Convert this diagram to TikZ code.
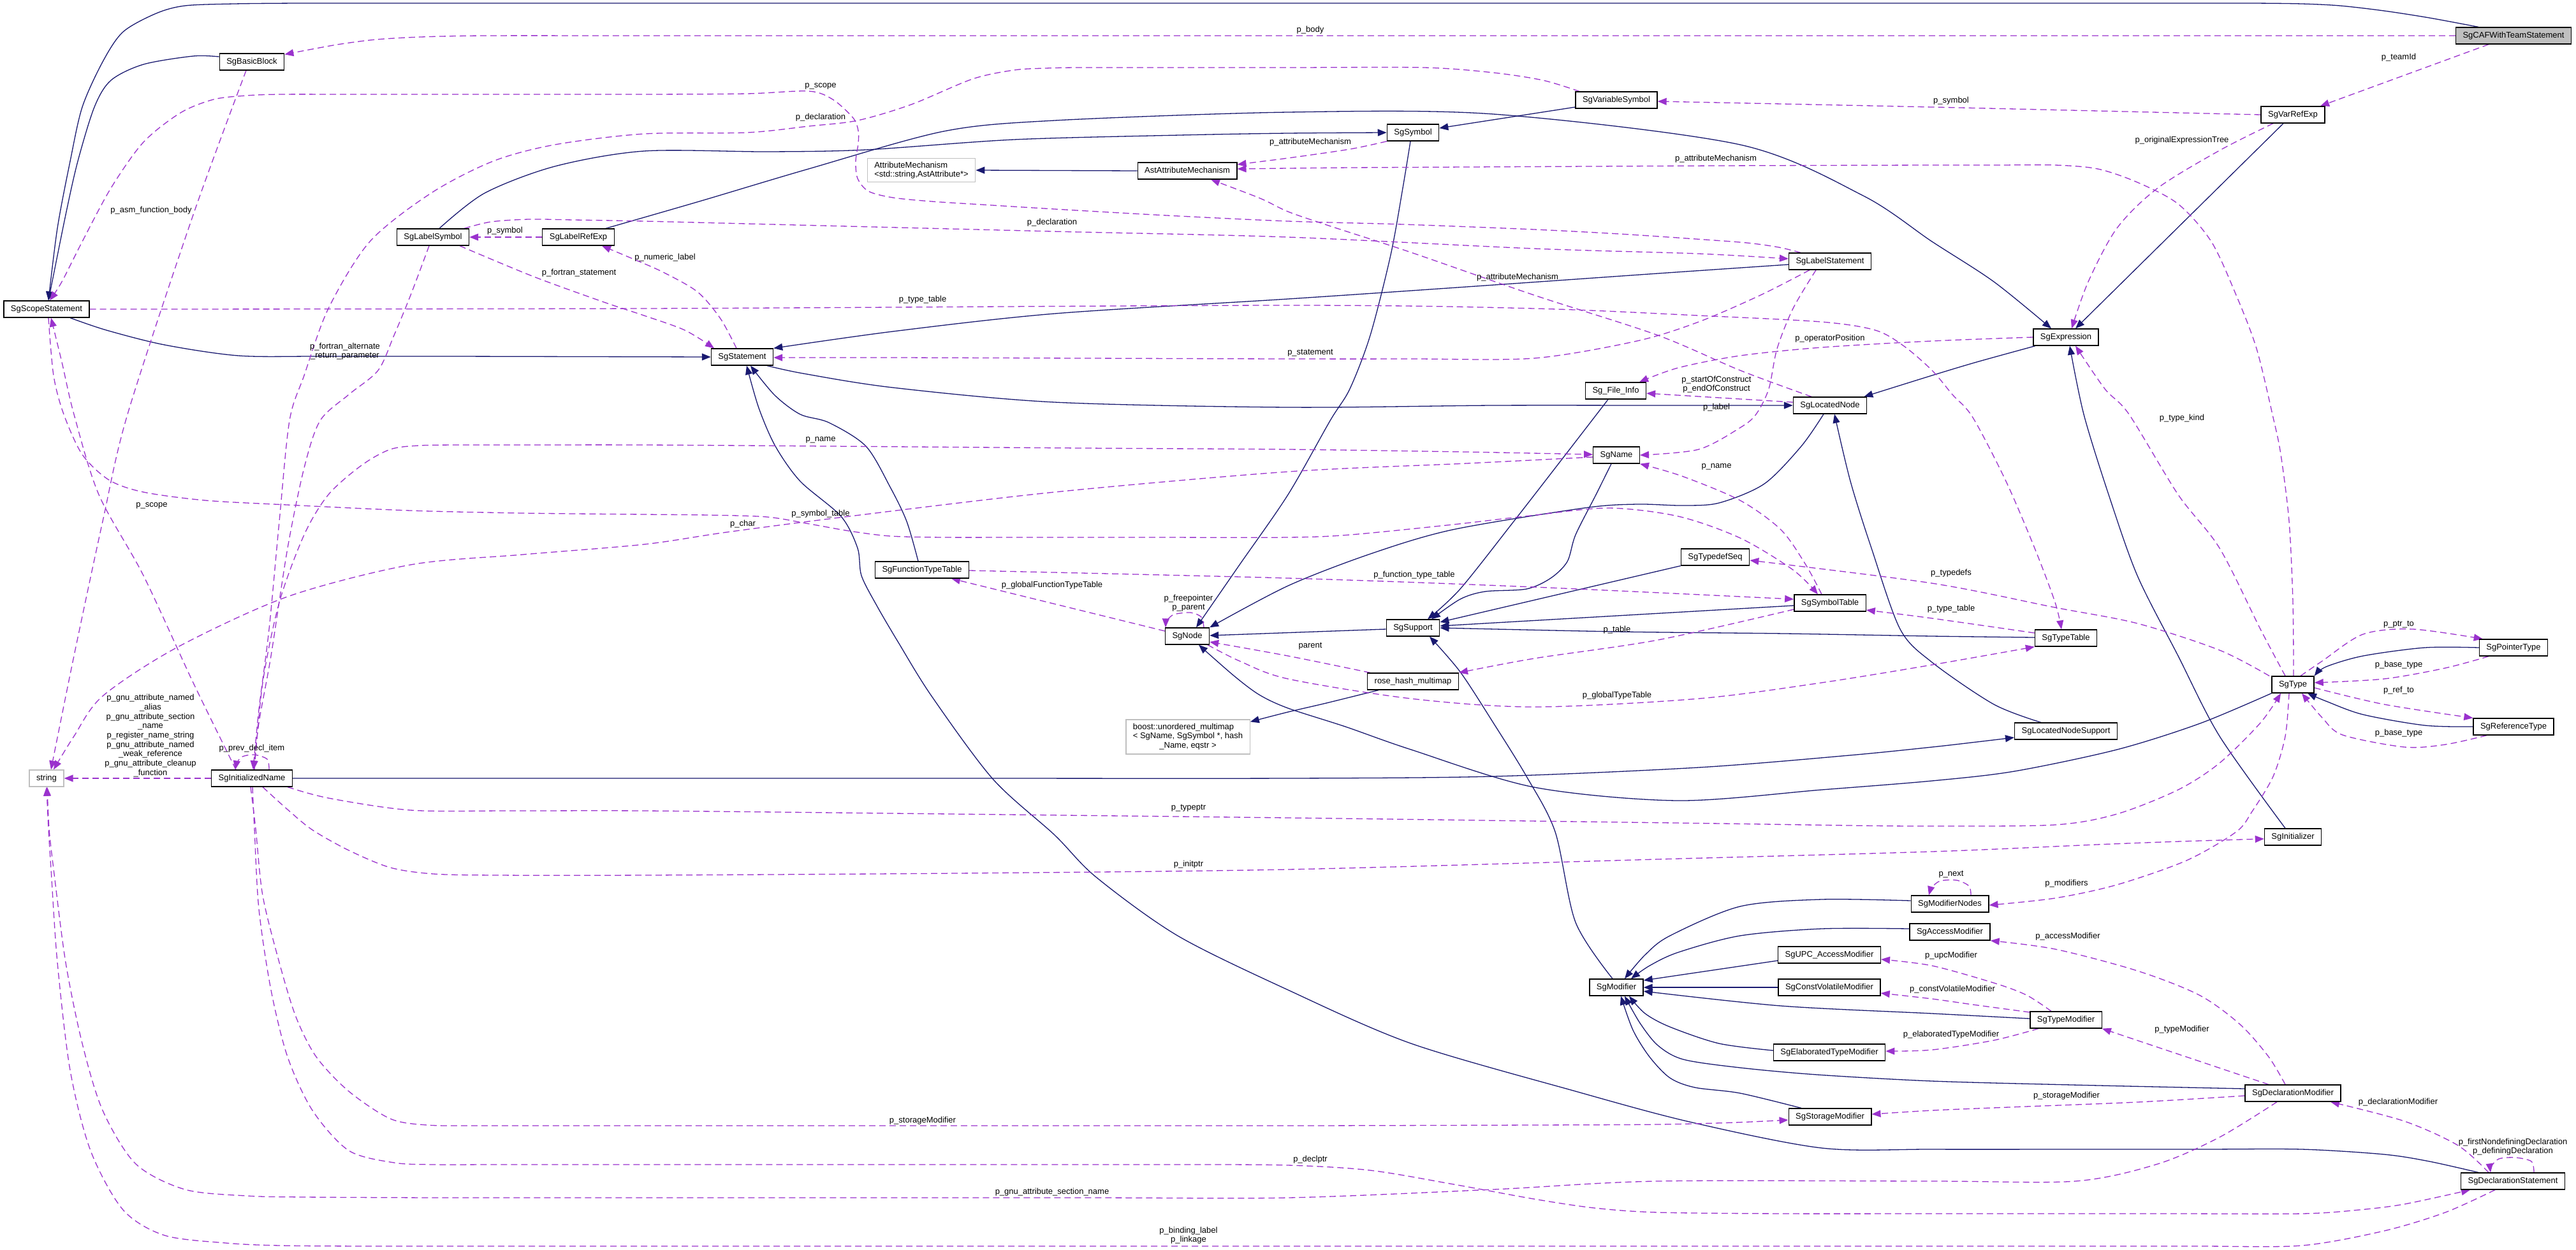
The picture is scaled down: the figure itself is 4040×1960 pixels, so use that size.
\documentclass[tikz,border=0pt]{standalone}
\usepackage{fontspec}
\setmainfont{Liberation Sans}
\usetikzlibrary{arrows.meta}
\definecolor{navyc}{HTML}{191970}
\definecolor{orchidc}{HTML}{9A32CD}
\definecolor{boxgray}{HTML}{BFBFBF}
\newcommand{\gfont}{\fontsize{13}{14.7}\selectfont}
\pgfdeclarelayer{back}
\pgfdeclarelayer{edges}
\pgfsetlayers{back,edges,main}
\tikzset{
  basebox/.style={line width=1.3pt, fill=white, font=\gfont, inner xsep=11pt},
  cls/.style={basebox, draw=black, inner ysep=0pt, minimum height=26pt, text height=9.6pt, text depth=2.8pt},
  extcls/.style={cls, draw=boxgray},
  extbox/.style={basebox, draw=boxgray, inner ysep=5pt},
  inhedge/.style={draw=navyc, line width=1.3pt, -{Triangle[length=14pt,width=11pt]}},
  useedge/.style={draw=orchidc, line width=1.3pt, dash pattern=on 10pt off 6pt, -{Triangle[length=14pt,width=11pt]}},
  lbl/.style={font=\gfont, inner sep=0pt, align=center},
}
\begin{document}
\begin{tikzpicture}[x=1pt,y=-1pt]
\useasboundingbox (0,0) rectangle (4040,1960);
\begin{pgfonlayer}{back}
\fill[white] (0,0) rectangle (4040,1960);
\end{pgfonlayer}

% ---------------- nodes ----------------
\node[cls, fill=boxgray] (caf) at (3942,56) {SgCAFWithTeamStatement};
\node[cls] (bb) at (395,97) {SgBasicBlock};
\node[cls] (scope) at (73,485) {SgScopeStatement};
\node[cls] (lsym) at (679,372) {SgLabelSymbol};
\node[cls] (lref) at (907,372) {SgLabelRefExp};
\node[extbox, align=left] (attm) at (1445,267) {AttributeMechanism\\<std::string,AstAttribute*>};
\node[cls] (astm) at (1862,268) {AstAttributeMechanism};
\node[cls] (stmt) at (1164,560) {SgStatement};
\node[cls] (vsym) at (2535,157) {SgVariableSymbol};
\node[cls] (sym) at (2216,208) {SgSymbol};
\node[cls] (lstmt) at (2870,410) {SgLabelStatement};
\node[cls] (finfo) at (2534,613) {Sg\_File\_Info};
\node[cls] (lnode) at (2870,636) {SgLocatedNode};
\node[cls] (vref) at (3596,180) {SgVarRefExp};
\node[cls] (expr) at (3240,529) {SgExpression};
\node[extcls] (str) at (73,1221) {string};
\node[cls] (iname) at (395,1221) {SgInitializedName};
\node[cls] (ftt) at (1446,894) {SgFunctionTypeTable};
\node[cls] (node) at (1862,998) {SgNode};
\node[extbox] (boost) at (1863,1156) {\begin{tabular}{@{}l@{}}boost::unordered\_multimap\\< SgName, SgSymbol *, hash\\\multicolumn{1}{@{}c@{}}{\_Name, eqstr >}\end{tabular}};
\node[cls] (name) at (2535,714) {SgName};
\node[cls] (tdseq) at (2690,874) {SgTypedefSeq};
\node[cls] (symtab) at (2870,946) {SgSymbolTable};
\node[cls] (sup) at (2216,985) {SgSupport};
\node[cls] (rhm) at (2216,1069) {rose\_hash\_multimap};
\node[cls] (ttab) at (3240,1001) {SgTypeTable};
\node[cls] (lns) at (3240,1147) {SgLocatedNodeSupport};
\node[cls] (type) at (3596,1074) {SgType};
\node[cls] (ptr) at (3942,1016) {SgPointerType};
\node[cls] (ref) at (3942,1140) {SgReferenceType};
\node[cls] (init) at (3596,1313) {SgInitializer};
\node[cls] (mod) at (2535,1549) {SgModifier};
\node[cls] (modn) at (3058,1418) {SgModifierNodes};
\node[cls] (acc) at (3058,1462) {SgAccessModifier};
\node[cls] (upc) at (2869,1498) {SgUPC\_AccessModifier};
\node[cls] (cv) at (2869,1549) {SgConstVolatileModifier};
\node[cls] (elab) at (2869,1651) {SgElaboratedTypeModifier};
\node[cls] (stor) at (2870,1752) {SgStorageModifier};
\node[cls] (tmod) at (3240,1600) {SgTypeModifier};
\node[cls] (dmod) at (3596,1715) {SgDeclarationModifier};
\node[cls] (dstmt) at (3941,1853) {SgDeclarationStatement};

\begin{pgfonlayer}{edges}
% ---------------- inheritance ----------------
\draw[inhedge] plot[smooth,tension=.5] coordinates {([xshift=-55pt]caf.north) (3810,28) (3739,17) (3670,9) (3610,6) (3530,5) (3400,5) (3150,5) (2700,5) (2000,5) (1300,5) (800,5) (600,5) (470,5) (367,6) (290,9) (245,21) (193,50) (161,97) (129,168) (110,253) (90,358) ([xshift=3pt]scope.north)};
\draw[inhedge] plot[smooth,tension=.5] coordinates {([yshift=8pt]bb.west) (303,88) (225,101) (174,126) (148,168) (122,253) (103,337) ([xshift=3pt]scope.north)};
\draw[inhedge] plot[smooth,tension=.5] coordinates {([xshift=37pt]scope.south) (167,518) (258,541) (374,558) (500,559) (700,559) (stmt.west)};
\draw[inhedge] plot[smooth,tension=.5] coordinates {([xshift=10pt]lsym.north) (760,303) (870,261) (1010,237) (1203,238) (1358,235) (1590,219) (1850,212) (2020,209) (sym.west)};
\draw[inhedge] ([yshift=-11pt]vsym.west) -- ([yshift=7pt]sym.east);
\draw[inhedge] plot[smooth,tension=.5] coordinates {([xshift=-4pt]sym.south) (2200,295) (2181,400) (2149,526) (2117,610) (2086,660) (2020,776) (1944,886) ([xshift=14pt]node.north)};
\draw[inhedge] plot[smooth,tension=.5] coordinates {([xshift=43pt]lref.north) (1100,315) (1268,265) (1480,206) (1654,189) (2020,176) (2342,179) (2729,227) (2922,307) (3030,379) (3127,442) ([xshift=-23pt]expr.north)};
\draw[inhedge] ([xshift=-15pt]vref.south) -- ([xshift=15pt]expr.north);
\draw[inhedge] plot[smooth,tension=.5] coordinates {([xshift=-12pt]init.north) (3481,1155) (3416,1029) (3352,903) (3307,776) (3268,650) ([xshift=6pt]expr.south)};
\draw[inhedge] plot[smooth,tension=.5] coordinates {([xshift=-48pt]expr.south) (3100,568) (3030,589) ([xshift=-5pt]lnode.north east)};
\draw[inhedge] plot[smooth,tension=.5] coordinates {([xshift=39pt]stmt.south) (1260,586) (1400,608) (1654,631) (2020,639) (2342,636) (2600,636) (lnode.west)};
\draw[inhedge] plot[smooth,tension=.5] coordinates {([yshift=-5pt]lstmt.west) (2600,429) (2300,450) (2020,469) (1654,492) (1400,520) (stmt.north east)};
\draw[inhedge] plot[smooth,tension=.5] coordinates {([xshift=-6pt]ftt.north) (1422,818) (1396,764) (1358,700) (1300,663) (1255,650) (1215,620) ([xshift=13pt]stmt.south)};
\draw[inhedge] plot[smooth,tension=.5] coordinates {([xshift=-54pt]dstmt.north) (3810,1822) (3739,1811) (3610,1803) (3450,1803) (3250,1803) (3030,1803) (2857,1801) (2650,1760) (2471,1712) (2213,1637) (2020,1553) (1847,1468) (1719,1376) (1654,1310) (1557,1222) (1461,1092) (1409,1008) (1375,950) (1351,903) (1345,860) (1319,810) (1255,755) (1216,700) (1190,640) ([xshift=7pt]stmt.south)};
\draw[inhedge] plot[smooth,tension=.5] coordinates {([xshift=-10pt]lnode.south) (2825,700) (2767,759) (2696,789) (2638,793) (2567,791) (2484,797) (2278,831) (2149,869) (2020,919) (node.north east)};
\draw[inhedge] plot[smooth,tension=.5] coordinates {([xshift=-39pt]lns.north) (3127,1105) (3030,1039) (2980,987) (2935,860) (2902,755) ([xshift=7pt]lnode.south)};
\draw[inhedge] plot[smooth,tension=.5] coordinates {(iname.east) (700,1221) (1010,1221) (1500,1221) (2020,1221) (2342,1218) (2664,1204) (2900,1185) (3030,1172) (3100,1164) ([yshift=-10pt]lns.west)};
\draw[inhedge] (astm.west) -- (attm.east);
\draw[inhedge] ([yshift=-2pt]sup.west) -- ([yshift=1pt]node.east);
\draw[inhedge] plot[smooth,tension=.5] coordinates {([xshift=-8pt]name.south) (2503,776) (2471,839) (2458,881) (2432,907) (2394,924) (2329,928) (2290,940) ([xshift=29pt]sup.north)};
\draw[inhedge] plot[smooth,tension=.5] coordinates {([xshift=-12pt]finfo.south) (2450,720) (2374,818) (2290,924) ([xshift=23pt]sup.north)};
\draw[inhedge] (tdseq.south west) -- ([yshift=9pt]sup.east);
\draw[inhedge] ([yshift=-4pt]symtab.west) -- ([yshift=3pt]sup.east);
\draw[inhedge] plot[smooth,tension=.5] coordinates {([yshift=1pt]ttab.west) (3030,998) (2800,994) (2536,991) (sup.east)};
\draw[inhedge] plot[smooth,tension=.5] coordinates {([xshift=-6pt]mod.north) (2471,1447) (2439,1305) (2394,1218) (2342,1134) (2290,1054) ([xshift=26pt]sup.south)};
\draw[inhedge] plot[smooth,tension=.5] coordinates {([xshift=-54pt]rhm.south) (2080,1103) (2020,1117) ([yshift=-4pt]boost.north east)};
\draw[inhedge] plot[smooth,tension=.5] coordinates {(type.south west) (3450,1135) (3320,1176) (3159,1210) (3030,1225) (2857,1239) (2632,1256) (2406,1235) (2213,1176) (2110,1140) (2020,1111) (1975,1090) (1935,1060) ([xshift=18pt]node.south)};
\draw[inhedge] plot[smooth,tension=.5] coordinates {(ptr.west) (3803,1016) (3706,1029) (3648,1046) (type.north east)};
\draw[inhedge] plot[smooth,tension=.5] coordinates {(ref.west) (3803,1138) (3706,1121) (3648,1100) ([xshift=23pt]type.south)};
\draw[inhedge] plot[smooth,tension=.5] coordinates {([yshift=5pt]modn.west) (2857,1411) (2729,1422) (2619,1468) (2580,1498) ([xshift=13pt]mod.north)};
\draw[inhedge] plot[smooth,tension=.5] coordinates {([yshift=5pt]acc.west) (2857,1457) (2729,1468) (2632,1494) (2587,1515) ([xshift=23pt]mod.north)};
\draw[inhedge] ([yshift=-9pt]upc.west) -- ([yshift=11pt]mod.east);
\draw[inhedge] (cv.west) -- (mod.east);
\draw[inhedge] plot[smooth,tension=.5] coordinates {([yshift=2pt]tmod.west) (3030,1590) (2793,1578) ([yshift=-6pt]mod.east)};
\draw[inhedge] plot[smooth,tension=.5] coordinates {([yshift=3pt]elab.west) (2696,1637) (2619,1611) (2580,1590) ([xshift=20pt]mod.south)};
\draw[inhedge] plot[smooth,tension=.5] coordinates {([yshift=7pt]dmod.west) (3250,1702) (3030,1696) (2850,1686) (2729,1675) (2640,1662) (2600,1640) (2572,1605) ([xshift=13pt]mod.south)};
\draw[inhedge] plot[smooth,tension=.5] coordinates {([xshift=-45pt]stor.north) (2729,1715) (2658,1706) (2619,1691) (2587,1658) (2561,1616) ([xshift=7pt]mod.south)};

% ---------------- usage ----------------
\draw[useedge] plot[smooth,tension=.5] coordinates {(caf.west) (3000,56) (2000,56) (1300,56) (1000,56) (760,56) (660,58) (590,62) (535,69) (490,77) ([yshift=-2pt]bb.north east)};
\draw[useedge] ([xshift=-39pt]caf.south) -- ([xshift=43pt]vref.north);
\draw[useedge] plot[smooth,tension=.5] coordinates {(vref.west) (3030,168) ([yshift=-2pt]vsym.east)};
\draw[useedge] plot[smooth,tension=.5] coordinates {([xshift=-31pt]vref.south) (3481,236) (3384,295) (3320,358) (3275,442) ([xshift=9pt]expr.north)};
\draw[useedge] plot[smooth,tension=.5] coordinates {([xshift=-58pt]vsym.north) (2420,126) (2342,114) (2233,106) (2020,106) (1800,106) (1690,106) (1640,107) (1590,110) (1525,124) (1429,164) (1345,189) (1268,198) (1171,208) (1010,210) (870,227) (773,253) (676,303) (580,379) (515,484) (477,589) (454,660) (438,818) (422,987) (406,1113) ([xshift=2pt]iname.north)};
\draw[useedge] plot[smooth,tension=.5] coordinates {([xshift=-46pt]lstmt.north) (2790,388) (2740,381) (2660,375) (2540,367) (2406,360) (2200,352) (2020,347) (1830,338) (1654,328) (1540,321) (1461,316) (1400,310) (1362,300) (1345,280) (1342,253) (1346,225) (1346,205) (1338,185) (1306,156) (1268,143) (1171,147) (1010,148) (800,148) (560,148) (440,148) (386,150) (335,156) (283,177) (225,223) (174,295) (129,379) (97,442) ([xshift=5pt]scope.north)};
\draw[useedge] plot[smooth,tension=.5] coordinates {([xshift=49pt]lsym.north) (770,348) (830,344) (900,345) (1010,347) (1250,353) (1650,363) (2020,372) (2406,390) (2664,398) ([yshift=4pt]lstmt.west)};
\draw[useedge] plot[smooth,tension=.5] coordinates {([xshift=-9pt]bb.south) (303,337) (200,650) (161,818) (116,1029) ([xshift=7pt]str.north)};
\draw[useedge] (lref.west) -- (lsym.east);
\draw[useedge] plot[smooth,tension=.5] coordinates {([xshift=42pt]lsym.south) (837,434) (950,475) (1010,495) (1074,518) ([xshift=-44pt]stmt.north)};
\draw[useedge] plot[smooth,tension=.5] coordinates {([xshift=-9pt]stmt.north) (1130,500) (1094,458) (1040,427) (990,405) ([xshift=37pt]lref.south)};
\draw[useedge] plot[smooth,tension=.5] coordinates {([xshift=-6pt]lsym.south) (644,463) (618,526) (593,581) (547,619) (502,660) (477,734) (451,860) (425,1029) (406,1134) ([xshift=3pt]iname.north)};
\draw[useedge] plot[smooth,tension=.5] coordinates {([xshift=-25pt]iname.north) (303,1071) (225,903) (155,776) (116,650) (97,568) ([xshift=7pt]scope.south)};
\draw[useedge] plot[smooth,tension=.5] coordinates {([xshift=3pt]scope.south) (84,589) (100,650) (129,713) (171,753) (225,772) (322,785) (450,792) (644,801) (820,805) (1010,807) (1110,808) (1203,811) (1270,822) (1332,833) (1396,841) (1480,843) (1600,843) (1800,843) (2020,843) (2117,839) (2278,823) (2400,809) (2522,797) (2632,810) (2729,844) (2812,894) ([xshift=-19pt]symtab.north)};
\draw[useedge] plot[smooth,tension=.5] coordinates {([xshift=4pt]iname.north) (412,1071) (438,945) (477,839) (515,776) (567,730) (612,705) (657,699) (720,698) (820,698) (1010,698) (1300,700) (1700,703) (2020,705) (2300,709) ([yshift=1pt]name.west)};
\draw[useedge] plot[smooth,tension=.5] coordinates {([yshift=-3pt]name.west) (2300,727) (2020,740) (1654,772) (1332,810) (1139,835) (1010,854) (820,870) (644,886) (451,936) (277,1016) (161,1092) (116,1155) ([xshift=11pt]str.north)};
\draw[useedge] (iname.west) -- (str.east);
\draw[useedge] plot[smooth,tension=.5] coordinates {([xshift=27pt]iname.north) (419,1191) (399,1184) (380,1187) (372,1196) ([xshift=-26pt]iname.north)};
\draw[useedge] plot[smooth,tension=.5] coordinates {([xshift=1pt]iname.south) (399,1300) (406,1426) (425,1553) (451,1658) (490,1742) (547,1805) (618,1824) (680,1827) (780,1827) (1010,1827) (1500,1827) (1850,1827) (2020,1828) (2149,1836) (2280,1858) (2406,1881) (2500,1895) (2600,1902) (2800,1904) (3030,1904) (3400,1904) (3610,1904) (3700,1898) (3771,1889) ([xshift=-67pt]dstmt.south)};
\draw[useedge] plot[smooth,tension=.5] coordinates {([xshift=17pt]iname.south) (451,1270) (490,1302) (547,1334) (612,1361) (680,1371) (780,1373) (1010,1373) (1500,1370) (2020,1364) (2600,1348) (3030,1336) (3288,1325) (3420,1320) ([yshift=-3pt]init.west)};
\draw[useedge] plot[smooth,tension=.5] coordinates {([xshift=-2pt]iname.south) (401,1300) (412,1405) (438,1510) (464,1595) (496,1658) (547,1712) (612,1755) (670,1765) (750,1766) (850,1766) (1010,1766) (1200,1766) (1500,1766) (2020,1766) (2400,1765) (2600,1764) (2720,1761) ([yshift=-5pt]stor.west)};
\draw[useedge] plot[smooth,tension=.5] coordinates {([xshift=56pt]iname.south) (515,1252) (644,1271) (800,1272) (1010,1272) (1400,1276) (2020,1283) (2400,1288) (2700,1292) (2900,1295) (3030,1296) (3223,1294) (3320,1277) (3416,1239) (3481,1197) (3545,1134) ([xshift=-19pt]type.south)};
\draw[useedge] plot[smooth,tension=.5] coordinates {(expr.west) (3030,535) (2857,545) (2729,558) (2632,577) ([xshift=37pt]finfo.north)};
\draw[useedge] ([yshift=5pt]lnode.west) -- ([yshift=-4pt]finfo.east);
\draw[useedge] plot[smooth,tension=.5] coordinates {([xshift=-29pt]lnode.north) (2729,581) (2600,526) (2406,463) (2213,396) (2084,354) (2020,332) (1976,311) ([xshift=37pt]astm.south)};
\draw[useedge] plot[smooth,tension=.5] coordinates {([xshift=-41pt]sym.south) (2117,234) (2020,248) ([yshift=10pt]astm.east)};
\draw[useedge] plot[smooth,tension=.5] coordinates {([xshift=1pt]type.north) (3596,945) (3590,818) (3577,713) (3565,655) (3539,547) (3507,463) (3468,379) (3416,320) (3352,286) (3290,265) (3223,259) (3130,259) (3030,259) (2700,260) (2300,262) (2120,263) (2020,264) ([yshift=3pt]astm.east)};
\draw[useedge] plot[smooth,tension=.5] coordinates {([xshift=-32pt]lstmt.south) (2761,463) (2664,505) (2567,535) (2406,562) (2213,563) (2020,563) (1700,562) (1400,561) ([yshift=-1pt]stmt.east)};
\draw[useedge] plot[smooth,tension=.5] coordinates {(scope.east) (1010,484) (2020,479) (2406,484) (2664,495) (2857,505) (2941,518) (2986,543) (3030,581) (3062,619) (3094,655) (3146,755) (3191,860) (3223,945) ([xshift=-7pt]ttab.north)};
\draw[useedge] plot[smooth,tension=.5] coordinates {([yshift=-1pt]ftt.east) (2020,907) (2406,921) ([yshift=6pt]symtab.west)};
\draw[useedge] ([yshift=8pt]node.west) -- ([xshift=46pt]ftt.south);
\draw[useedge] plot[smooth,tension=.5] coordinates {([xshift=26pt]node.north) (1884,968) (1867,961) (1841,964) (1830,974) ([xshift=-34pt]node.north)};
\draw[useedge] plot[smooth,tension=.5] coordinates {([xshift=-67pt]rhm.north) (2020,1029) ([yshift=-9pt]node.east)};
\draw[useedge] plot[smooth,tension=.5] coordinates {([xshift=32pt]node.south) (1944,1037) (2020,1065) (2213,1096) (2406,1109) (2664,1096) (2857,1071) (3030,1043) (ttab.south west)};
\draw[useedge] plot[smooth,tension=.5] coordinates {([yshift=-10pt]symtab.west) (2600,1004) (2406,1033) (rhm.north east)};
\draw[useedge] plot[smooth,tension=.5] coordinates {([xshift=-13pt]symtab.north) (2832,886) (2793,831) (2729,785) (2638,747) (name.south east)};
\draw[useedge] plot[smooth,tension=.5] coordinates {([xshift=-22pt]lstmt.south) (2812,484) (2787,547) (2774,610) (2754,650) (2729,671) (2664,705) (name.east)};
\draw[useedge] plot[smooth,tension=.5] coordinates {([xshift=-37pt]type.north) (3481,1020) (3352,978) (3223,953) (3030,915) ([yshift=-5pt]tdseq.east)};
\draw[useedge] plot[smooth,tension=.5] coordinates {([yshift=8pt]ttab.west) (3030,970) ([yshift=-11pt]symtab.east)};
\draw[useedge] plot[smooth,tension=.5] coordinates {([xshift=-12pt]type.north) (3545,987) (3481,860) (3416,776) (3339,650) (3301,610) ([xshift=15pt]expr.south)};
\draw[useedge] plot[smooth,tension=.5] coordinates {([xshift=12pt]type.north) (3642,1037) (3706,995) (3784,987) ([xshift=6pt]ptr.north west)};
\draw[useedge] plot[smooth,tension=.5] coordinates {([xshift=-39pt]ptr.south) (3835,1048) (3739,1065) ([yshift=3pt]type.east)};
\draw[useedge] plot[smooth,tension=.5] coordinates {([yshift=-5pt]type.east) (3739,1105) (ref.north west)};
\draw[useedge] plot[smooth,tension=.5] coordinates {([xshift=-42pt]ref.south) (3835,1168) (3771,1172) (3674,1153) (3642,1126) ([xshift=14pt]type.south)};
\draw[useedge] plot[smooth,tension=.5] coordinates {([xshift=-6pt]type.south) (3584,1155) (3565,1218) (3532,1273) (3507,1305) (3429,1350) (3320,1388) (3223,1409) ([yshift=-2pt]modn.east)};
\draw[useedge] plot[smooth,tension=.5] coordinates {([xshift=33pt]modn.north) (3088,1390) (3069,1381) (3043,1382) (3030,1392) ([xshift=-33pt]modn.north)};
\draw[useedge] plot[smooth,tension=.5] coordinates {([xshift=-23pt]tmod.north) (3178,1561) (3127,1542) (3030,1515) ([yshift=-7pt]upc.east)};
\draw[useedge] plot[smooth,tension=.5] coordinates {([yshift=12pt]tmod.west) (3094,1576) (3030,1567) ([yshift=-9pt]cv.east)};
\draw[useedge] plot[smooth,tension=.5] coordinates {([xshift=-43pt]tmod.south) (3127,1632) (3030,1647) ([yshift=2pt]elab.east)};
\draw[useedge] plot[smooth,tension=.5] coordinates {([xshift=-12pt]dmod.north) (3558,1658) (3513,1607) (3449,1561) (3352,1523) (3223,1489) (acc.south east)};
\draw[useedge] ([xshift=-38pt]dmod.north) -- (tmod.south east);
\draw[useedge] plot[smooth,tension=.5] coordinates {([yshift=-4pt]dmod.west) (3352,1729) (3150,1737) (3030,1742) ([yshift=4pt]stor.east)};
\draw[useedge] plot[smooth,tension=.5] coordinates {([xshift=-25pt]dmod.south) (3481,1784) (3384,1826) (3255,1853) (3030,1853) (2600,1853) (2342,1866) (2020,1879) (1700,1879) (1010,1879) (700,1879) (480,1878) (386,1876) (290,1866) (213,1826) (161,1742) (129,1637) (103,1510) (84,1363) (77,1300) ([xshift=1pt]str.south)};
\draw[useedge] plot[smooth,tension=.5] coordinates {([xshift=-28pt]dstmt.south) (3835,1902) (3739,1931) (3610,1954) (3450,1955) (3250,1955) (3030,1955) (2500,1955) (1800,1955) (1010,1955) (600,1955) (440,1954) (354,1950) (258,1938) (193,1898) (142,1805) (110,1679) (90,1510) (80,1363) (76,1300) (str.south)};
\draw[useedge] plot[smooth,tension=.5] coordinates {([xshift=-38pt]dstmt.north) (3855,1797) (3771,1759) ([xshift=59pt]dmod.south)};
\draw[useedge] plot[smooth,tension=.5] coordinates {([xshift=33pt]dstmt.north) (3970,1822) (3945,1816) (3919,1818) (3907,1830) ([xshift=-35pt]dstmt.north)};
\end{pgfonlayer}

% ---------------- labels ----------------
\node[lbl] (l1) at (2055,47) {p\_body};
\node[lbl] (l2) at (3762,90) {p\_teamId};
\node[lbl] (l3) at (3060,158) {p\_symbol};
\node[lbl] (l4) at (3422,220) {p\_originalExpressionTree};
\node[lbl] (l5) at (1287,184) {p\_declaration};
\node[lbl] (l6) at (1287,135) {p\_scope};
\node[lbl] (l7) at (1650,349) {p\_declaration};
\node[lbl] (l8) at (237,330) {p\_asm\_function\_body};
\node[lbl] (l9) at (792,362) {p\_symbol};
\node[lbl] (l10) at (908,428) {p\_fortran\_statement};
\node[lbl] (l11) at (1043,404) {p\_numeric\_label};
\node[lbl] (l12) at (541,551) {p\_fortran\_alternate\\\_return\_parameter};
\node[lbl] (l13) at (238,793) {p\_scope};
\node[lbl] (l14) at (1287,806) {p\_symbol\_table};
\node[lbl] (l15) at (1287,690) {p\_name};
\node[lbl] (l16) at (1165,822) {p\_char};
\node[lbl] (l17) at (236,1154) {p\_gnu\_attribute\_named\\\_alias\\p\_gnu\_attribute\_section\\\_name\\p\_register\_name\_string\\p\_gnu\_attribute\_named\\\_weak\_reference\\p\_gnu\_attribute\_cleanup\\\_function};
\node[lbl] (l18) at (395,1174) {p\_prev\_decl\_item};
\node[lbl] (l19) at (2055,1819) {p\_declptr};
\node[lbl] (l20) at (1864,1356) {p\_initptr};
\node[lbl] (l21) at (1447,1758) {p\_storageModifier};
\node[lbl] (l22) at (1864,1268) {p\_typeptr};
\node[lbl] (l23) at (2870,531) {p\_operatorPosition};
\node[lbl] (l24) at (2692,603) {p\_startOfConstruct\\p\_endOfConstruct};
\node[lbl] (l25) at (2380,435) {p\_attributeMechanism};
\node[lbl] (l26) at (2055,223) {p\_attributeMechanism};
\node[lbl] (l27) at (2691,249) {p\_attributeMechanism};
\node[lbl] (l28) at (2055,554) {p\_statement};
\node[lbl] (l29) at (1447,470) {p\_type\_table};
\node[lbl] (l30) at (2218,902) {p\_function\_type\_table};
\node[lbl] (l31) at (1650,918) {p\_globalFunctionTypeTable};
\node[lbl] (l32) at (1864,946) {p\_freepointer\\p\_parent};
\node[lbl] (l33) at (2055,1014) {parent};
\node[lbl] (l34) at (2536,1091) {p\_globalTypeTable};
\node[lbl] (l35) at (2536,988) {p\_table};
\node[lbl] (l36) at (2692,732) {p\_name};
\node[lbl] (l37) at (2692,639) {p\_label};
\node[lbl] (l38) at (3060,899) {p\_typedefs};
\node[lbl] (l39) at (3060,955) {p\_type\_table};
\node[lbl] (l40) at (3422,656) {p\_type\_kind};
\node[lbl] (l41) at (3762,980) {p\_ptr\_to};
\node[lbl] (l42) at (3762,1043) {p\_base\_type};
\node[lbl] (l43) at (3762,1083) {p\_ref\_to};
\node[lbl] (l44) at (3762,1150) {p\_base\_type};
\node[lbl] (l45) at (3241,1386) {p\_modifiers};
\node[lbl] (l46) at (3060,1372) {p\_next};
\node[lbl] (l47) at (3060,1499) {p\_upcModifier};
\node[lbl] (l48) at (3062,1552) {p\_constVolatileModifier};
\node[lbl] (l49) at (3060,1623) {p\_elaboratedTypeModifier};
\node[lbl] (l50) at (3243,1469) {p\_accessModifier};
\node[lbl] (l51) at (3422,1615) {p\_typeModifier};
\node[lbl] (l52) at (3241,1719) {p\_storageModifier};
\node[lbl] (l53) at (1650,1870) {p\_gnu\_attribute\_section\_name};
\node[lbl] (l54) at (1864,1938) {p\_binding\_label\\p\_linkage};
\node[lbl] (l55) at (3761,1729) {p\_declarationModifier};
\node[lbl] (l56) at (3941,1799) {p\_firstNondefiningDeclaration\\p\_definingDeclaration};
\end{tikzpicture}
\end{document}
